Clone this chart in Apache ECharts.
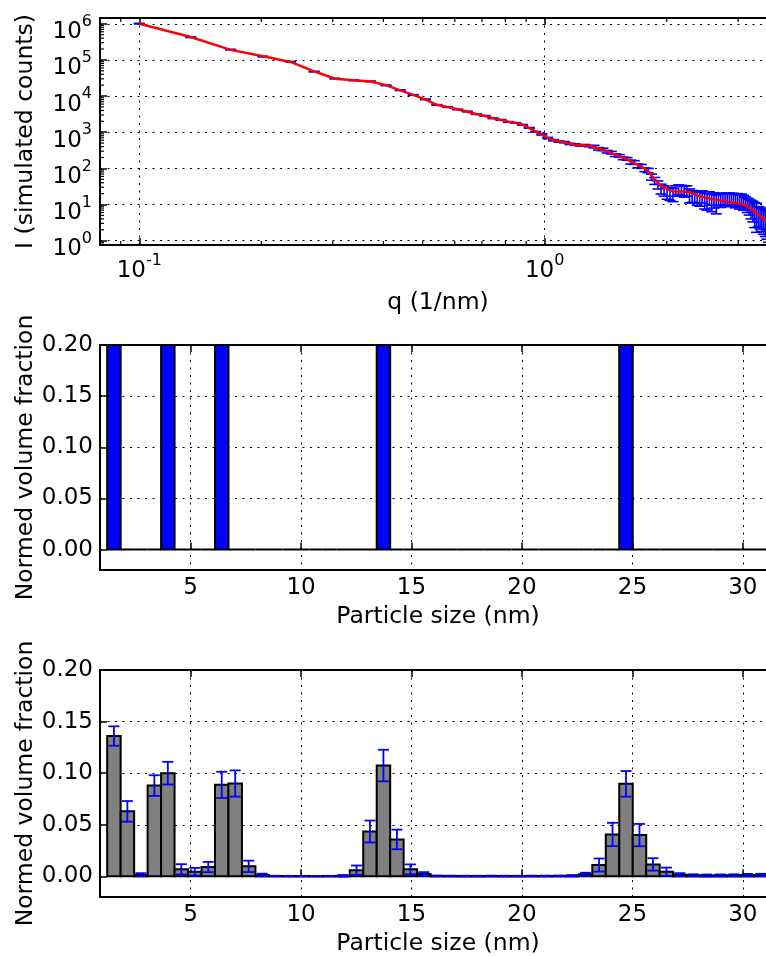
<!DOCTYPE html>
<html>
<head>
<meta charset="utf-8">
<script src="https://cdn.jsdelivr.net/npm/echarts@6/dist/echarts.min.js"></script>
<style>
  html, body { margin: 0; padding: 0; background: #fff; }
  #chart { width: 766px; height: 956px; }
</style>
</head>
<body>
<div id="chart"></div>
<script>
// ---- scattering curve: q grid, simulated counts, uncertainty, model fit ----
const qValues = [
  0.100, 0.134, 0.168, 0.202, 0.236, 0.270, 0.304, 0.338, 0.372, 0.406,
  0.440, 0.474, 0.508, 0.542, 0.576, 0.610, 0.644, 0.678, 0.712, 0.746,
  0.780, 0.814, 0.848, 0.882, 0.916, 0.950, 0.984, 1.018, 1.052, 1.086,
  1.120, 1.154, 1.188, 1.222, 1.256, 1.290, 1.324, 1.358, 1.392, 1.426,
  1.460, 1.494, 1.528, 1.562, 1.596, 1.630, 1.664, 1.698, 1.732, 1.766,
  1.800, 1.834, 1.868, 1.902, 1.936, 1.970, 2.004, 2.038, 2.072, 2.106,
  2.140, 2.174, 2.208, 2.242, 2.276, 2.310, 2.344, 2.378, 2.412, 2.446,
  2.480, 2.514, 2.548, 2.582, 2.616, 2.650, 2.684, 2.718, 2.752, 2.786,
  2.820, 2.854, 2.888, 2.922, 2.956, 2.990, 3.024, 3.058, 3.092, 3.126,
  3.160, 3.194, 3.228, 3.262, 3.296, 3.330, 3.364, 3.398, 3.432, 3.466,
  3.500, 3.534, 3.568, 3.602
];
const measuredI = [
  1.01e6, 4.25e5, 1.93e5, 1.24e5, 8.9e4, 4.75e4, 3.05e4, 2.73e4, 2.55e4, 1.98e4,
  1.46e4, 1.07e4, 8100, 5680, 4980, 4260, 3740, 3180, 2840, 2430,
  2200, 1920, 1810, 1600, 1320, 1030, 870, 690, 600, 550,
  530, 475, 460, 432, 440, 412, 400, 348, 335, 290,
  272, 232, 222, 190, 183, 150, 146, 118, 114, 92,
  88, 58, 46, 36, 28, 25, 22, 21, 20, 25,
  27, 26, 24, 25, 19, 18, 17.5, 16, 15.5, 17.5,
  14, 13.5, 16, 12.8, 14.5, 12, 15, 13.8, 14.6, 15.2,
  14.8, 15.5, 14.2, 15.0, 13.6, 14.5, 13.0, 14.0, 12.5, 11.8,
  10.5, 9.6, 8.5, 7.8, 6.8, 6.2, 5.6, 5.2, 4.8, 4.5,
  4.2, 3.9, 3.6, 3.3
];
const measuredErr = [
  2.0e4, 8500, 3900, 2500, 1800, 950, 610, 550, 510, 400,
  290, 215, 160, 114, 100, 85, 75, 64, 57, 49,
  44, 38, 36, 32, 26, 21, 35, 28, 24, 22,
  21, 19, 18, 17, 18, 16.5, 32, 28, 27, 23,
  22, 19, 18, 15, 15, 18, 17.5, 14, 14, 11,
  12, 11, 10, 9, 8.5, 8, 8, 8, 8, 8,
  8, 8, 8, 8, 8, 6.5, 6.5, 6.5, 6.5, 6.5,
  6.5, 6.5, 6.5, 6.5, 6.5, 6.5, 5.5, 5.5, 5.5, 5.5,
  5.5, 5.5, 5.5, 5.5, 5.5, 5.5, 5.5, 5.5, 5.5, 4.5,
  4.5, 4.5, 4.5, 4.5, 4.5, 4.5, 3.2, 3.1, 3.0, 3.0,
  2.9, 2.8, 2.7, 2.6
];
const fitI = [
  1.0e6, 4.3e5, 1.9e5, 1.26e5, 8.8e4, 4.84e4, 3.02e4, 2.75e4, 2.52e4, 2.01e4,
  1.44e4, 1.08e4, 7980, 5740, 4940, 4300, 3700, 3210, 2810, 2460,
  2170, 1940, 1790, 1630, 1300, 1050, 851, 703, 589, 560,
  520, 485, 450, 440, 430, 421, 390, 356, 327, 294,
  265, 239, 217, 196, 178, 157, 140, 124, 110, 98.6,
  82.6, 64.3, 50.0, 40.4, 32.8, 29.3, 27.0, 24.9, 23.0, 22.8,
  22.8, 22.8, 22.8, 22.2, 21.9, 20.4, 19.1, 17.9, 17.0, 16.4,
  15.7, 15.2, 14.8, 14.3, 13.9, 13.6, 13.2, 12.9, 12.6, 12.3,
  12.0, 11.7, 11.5, 11.2, 11.0, 10.8, 10.5, 10.4, 10.2, 9.6,
  8.9, 8.3, 7.7, 7.1, 6.4, 5.85, 5.3, 4.8, 4.4, 4.0,
  3.7, 3.4, 3.1, 2.9
];
const qMinorTicks = [0.09, 0.2, 0.3, 0.4, 0.5, 0.6, 0.7, 0.8, 0.9, 2, 3];
const iMinorTicks = [
  0.8, 0.9,
  2, 3, 4, 5, 6, 7, 8, 9,
  20, 30, 40, 50, 60, 70, 80, 90,
  200, 300, 400, 500, 600, 700, 800, 900,
  2e3, 3e3, 4e3, 5e3, 6e3, 7e3, 8e3, 9e3,
  2e4, 3e4, 4e4, 5e4, 6e4, 7e4, 8e4, 9e4,
  2e5, 3e5, 4e5, 5e5, 6e5, 7e5, 8e5, 9e5
];

// ---- size distributions: bin centres (nm), input and fitted volume fractions ----
const binCenters = [
  1.53, 2.14, 2.75, 3.36, 3.97, 4.58, 5.19, 5.80, 6.41, 7.02,
  7.63, 8.24, 8.85, 9.46, 10.07, 10.68, 11.29, 11.90, 12.51, 13.12,
  13.73, 14.34, 14.95, 15.56, 16.17, 16.78, 17.39, 18.00, 18.61, 19.22,
  19.83, 20.44, 21.05, 21.66, 22.27, 22.88, 23.49, 24.10, 24.71, 25.32,
  25.93, 26.54, 27.15, 27.76, 28.37, 28.98, 29.59, 30.20, 30.81, 31.42
];
const binWidth = 0.61;
const inputFraction = [
  0.2, 0, 0, 0, 0.2, 0, 0, 0, 0.2, 0,
  0, 0, 0, 0, 0, 0, 0, 0, 0, 0,
  0.2, 0, 0, 0, 0, 0, 0, 0, 0, 0,
  0, 0, 0, 0, 0, 0, 0, 0, 0.2, 0,
  0, 0, 0, 0, 0, 0, 0, 0, 0, 0
];
const fittedFraction = [
  0.136, 0.063, 0.0016, 0.088, 0.100, 0.0068, 0.0045, 0.009, 0.0887, 0.090,
  0.0097, 0.0013, 0.0003, 0.0002, 0.0002, 0.0001, 0.0002, 0.0005, 0.006, 0.0435,
  0.1074, 0.0358, 0.0068, 0.0023, 0.0004, 0.0003, 0.0002, 0.0002, 0.0003, 0.0002,
  0.0002, 0.0003, 0.0003, 0.0004, 0.0006, 0.002, 0.011, 0.0406, 0.0897, 0.040,
  0.0116, 0.0045, 0.0016, 0.0010, 0.0008, 0.0009, 0.0010, 0.0012, 0.0013, 0.0012
];
const fittedError = [
  0.0094, 0.010, 0.0015, 0.010, 0.011, 0.005, 0.0037, 0.005, 0.0127, 0.0127,
  0.0055, 0.0013, 0.0003, 0.0003, 0.0003, 0.0003, 0.0003, 0.0008, 0.0045, 0.0106,
  0.0153, 0.0095, 0.0048, 0.0018, 0.0004, 0.0004, 0.0004, 0.0004, 0.0004, 0.0004,
  0.0004, 0.0004, 0.0004, 0.0004, 0.0007, 0.0015, 0.0063, 0.0113, 0.0124, 0.0108,
  0.006, 0.004, 0.0015, 0.001, 0.001, 0.001, 0.001, 0.0012, 0.0012, 0.0012
];
const sizeTicks = [5, 10, 15, 20, 25, 30];
const fractionTicks = [0, 0.05, 0.10, 0.15, 0.20];

// ---- styling ----
const FONT = 'DejaVu Sans';
const TICK_FS = 23;
const NAME_FS = 23.5;
const BLUE = '#0000ff';
const CAP = 11;

const dotted = { show: true, lineStyle: { color: '#000', width: 1, type: [2, 5.5] } };
const tickIn = { show: true, inside: true, length: 7, lineStyle: { color: '#000', width: 1.5 } };
const noLine = { show: false };
const nameStyle = { fontFamily: FONT, fontSize: NAME_FS, color: '#000' };
const labelBase = { fontFamily: FONT, fontSize: TICK_FS, color: '#000' };

const powRich = {
  b: { fontFamily: FONT, fontSize: TICK_FS, color: '#000', lineHeight: 30, verticalAlign: 'bottom' },
  e: { fontFamily: FONT, fontSize: 16, color: '#000', lineHeight: 13, verticalAlign: 'top' }
};
function powLabel(v) {
  const p = Math.log10(v);
  const r = Math.round(p);
  if (Math.abs(p - r) > 1e-6) return '';
  return '{b|10}{e|' + (r < 0 ? '-' + (-r) : String(r)) + '}';
}

const gridBox = { show: true, borderColor: '#000', borderWidth: 2, backgroundColor: 'transparent',
  containLabel: false, outerBoundsMode: 'none' };

// histogram bars drawn from bin centre and value
function barRenderer(fill) {
  return function (params, api) {
    const c = api.value(0), v = api.value(1);
    const p0 = api.coord([c - binWidth / 2, v]);
    const p1 = api.coord([c + binWidth / 2, 0]);
    return {
      type: 'rect',
      shape: { x: p0[0], y: Math.min(p0[1], p1[1]), width: p1[0] - p0[0], height: Math.abs(p1[1] - p0[1]) },
      style: { fill: fill, stroke: '#000', lineWidth: 2 }
    };
  };
}

// vertical error bar with caps: value(0)=x, value(1)=y, value(2)=sigma
function errorRenderer(lineWidth, floor) {
  return function (params, api) {
    const x = api.value(0), y = api.value(1), s = api.value(2);
    const lo = (y - s) > floor ? (y - s) : floor;
    const top = api.coord([x, y + s]);
    const bot = api.coord([x, lo]);
    const st = { stroke: BLUE, lineWidth: lineWidth };
    return {
      type: 'group',
      children: [
        { type: 'line', shape: { x1: top[0], y1: top[1], x2: bot[0], y2: bot[1] }, style: st },
        { type: 'line', shape: { x1: top[0] - CAP / 2, y1: top[1], x2: top[0] + CAP / 2, y2: top[1] }, style: st },
        { type: 'line', shape: { x1: bot[0] - CAP / 2, y1: bot[1], x2: bot[0] + CAP / 2, y2: bot[1] }, style: st }
      ]
    };
  };
}

function minorX(params, api) {
  const cs = params.coordSys;
  const x = api.coord([api.value(0), api.value(1)])[0];
  const st = { stroke: '#000', lineWidth: 1.2 };
  return { type: 'group', children: [
    { type: 'line', shape: { x1: x, y1: cs.y + cs.height, x2: x, y2: cs.y + cs.height - 4 }, style: st },
    { type: 'line', shape: { x1: x, y1: cs.y, x2: x, y2: cs.y + 4 }, style: st }
  ] };
}
function minorY(params, api) {
  const cs = params.coordSys;
  const y = api.coord([api.value(0), api.value(1)])[1];
  return { type: 'line', shape: { x1: cs.x, y1: y, x2: cs.x + 4, y2: y },
    style: { stroke: '#000', lineWidth: 1.2 } };
}

function sizeAxis(gridIndex) {
  return [
    {
      type: 'value', gridIndex: gridIndex, min: 0.9, max: 31.5, position: 'bottom',
      name: 'Particle size (nm)', nameLocation: 'middle', nameGap: 35, nameTextStyle: nameStyle,
      axisLine: noLine,
      axisTick: Object.assign({}, tickIn, { customValues: sizeTicks }),
      axisLabel: Object.assign({}, labelBase, { margin: 7, customValues: sizeTicks, formatter: v => String(v) }),
      splitLine: dotted
    },
    {
      type: 'value', gridIndex: gridIndex, min: 0.9, max: 31.5, position: 'top',
      axisLine: noLine,
      axisTick: Object.assign({}, tickIn, { customValues: sizeTicks }),
      axisLabel: { show: false, customValues: sizeTicks },
      splitLine: { show: false }
    }
  ];
}
function fractionAxis(gridIndex) {
  return {
    type: 'value', gridIndex: gridIndex, min: -0.02, max: 0.2,
    name: 'Normed volume fraction', nameLocation: 'middle', nameGap: 62, nameRotate: 90,
    nameMoveOverlap: false,
    nameTextStyle: nameStyle,
    axisLine: noLine,
    axisTick: Object.assign({}, tickIn, { customValues: fractionTicks }),
    axisLabel: Object.assign({}, labelBase, { margin: 7, customValues: fractionTicks, formatter: v => v.toFixed(2) }),
    splitLine: dotted
  };
}

const chart = echarts.init(document.getElementById('chart'), null, { renderer: 'canvas' });

const option = {
  animation: false,
  backgroundColor: '#fff',
  grid: [
    Object.assign({ left: 100, top: 18, width: 676, height: 227 }, gridBox),
    Object.assign({ left: 100, top: 345, width: 676, height: 225 }, gridBox),
    Object.assign({ left: 100, top: 670, width: 676, height: 227 }, gridBox)
  ],
  xAxis: [
    {
      type: 'log', logBase: 10, gridIndex: 0, min: 0.08, max: 3.72, position: 'bottom',
      name: 'q (1/nm)', nameLocation: 'middle', nameGap: 46, nameTextStyle: nameStyle,
      axisLine: noLine, axisTick: tickIn,
      axisLabel: { margin: 8, formatter: powLabel, rich: powRich },
      splitLine: dotted
    },
    {
      type: 'log', logBase: 10, gridIndex: 0, min: 0.08, max: 3.72, position: 'top',
      axisLine: noLine, axisTick: tickIn, axisLabel: { show: false }, splitLine: { show: false }
    }
  ].concat(sizeAxis(1), sizeAxis(2)),
  yAxis: [
    {
      type: 'log', logBase: 10, gridIndex: 0, min: 0.759, max: 1.445e6,
      name: 'I (simulated counts)', nameLocation: 'middle', nameGap: 62, nameRotate: 90,
      nameMoveOverlap: false,
      nameTextStyle: nameStyle,
      axisLine: noLine, axisTick: tickIn,
      axisLabel: { margin: 8, formatter: powLabel, rich: powRich, padding: [10, 0, 0, 0] },
      splitLine: dotted
    },
    fractionAxis(1),
    fractionAxis(2)
  ],
  series: [
    {
      type: 'custom', name: 'q minor ticks', xAxisIndex: 0, yAxisIndex: 0, silent: true,
      renderItem: minorX, data: qMinorTicks.map(q => [q, 1])
    },
    {
      type: 'custom', name: 'I minor ticks', xAxisIndex: 0, yAxisIndex: 0, silent: true,
      renderItem: minorY, data: iMinorTicks.map(v => [0.1, v])
    },
    {
      type: 'custom', name: 'measured', xAxisIndex: 0, yAxisIndex: 0, silent: true, clip: true,
      encode: { x: 0, y: 1 },
      renderItem: errorRenderer(1.6, 1e-3),
      data: qValues.map((q, i) => [q, measuredI[i], measuredErr[i]])
    },
    {
      type: 'line', name: 'fit', xAxisIndex: 0, yAxisIndex: 0, silent: true,
      showSymbol: false, symbol: 'none', clip: true,
      lineStyle: { color: '#ff0000', width: 2.5 },
      data: qValues.map((q, i) => [q, fitI[i]]),
      z: 5
    },
    {
      type: 'custom', name: 'input distribution', xAxisIndex: 2, yAxisIndex: 1, silent: true, clip: true,
      encode: { x: 0, y: 1 },
      renderItem: barRenderer(BLUE),
      data: binCenters.map((c, i) => [c, inputFraction[i]])
    },
    {
      type: 'custom', name: 'fitted distribution', xAxisIndex: 4, yAxisIndex: 2, silent: true, clip: true,
      encode: { x: 0, y: 1 },
      renderItem: barRenderer('#808080'),
      data: binCenters.map((c, i) => [c, fittedFraction[i]])
    },
    {
      type: 'custom', name: 'fitted uncertainty', xAxisIndex: 4, yAxisIndex: 2, silent: true, clip: true,
      encode: { x: 0, y: 1 },
      renderItem: errorRenderer(1.8, -1),
      data: binCenters.map((c, i) => [c, fittedFraction[i], fittedError[i]]),
      z: 4
    }
  ]
};
chart.setOption(option);
</script>
</body>
</html>
